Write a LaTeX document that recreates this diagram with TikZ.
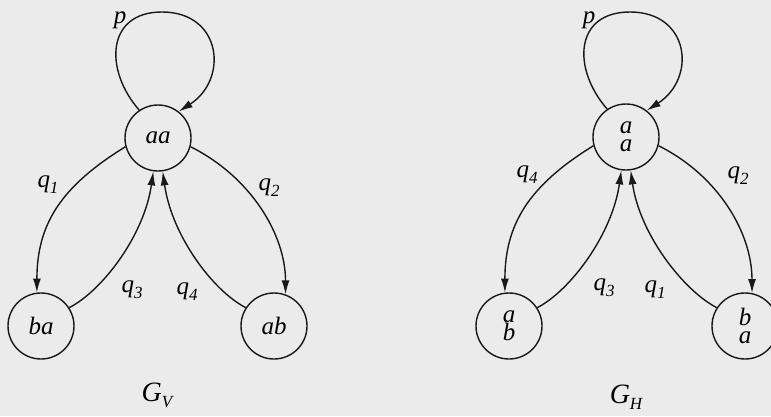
\documentclass[tikz,border=0pt]{standalone}
\usepackage{fontspec}
\setmainfont{Liberation Serif}
\usetikzlibrary{arrows.meta}
\newcommand\lsub[2]{#1\raisebox{-6pt}{\fontsize{17}{17}\selectfont #2}}
\begin{document}
\begin{tikzpicture}[x=1pt,y=-1pt,
  state/.style={circle,draw=black!90,line width=1.4pt,minimum size=66pt,inner sep=0pt,
    align=center,font=\fontsize{25}{18}\selectfont\itshape},
  edge/.style={draw=black!90,line width=1.4pt,-{Latex[length=14pt,width=8pt]}},
  lbl/.style={inner sep=0pt,font=\fontsize{25}{27}\selectfont\itshape}]
\useasboundingbox[fill=black!8] (0,0) rectangle (771,416);
% ---------- left graph G_V
\node[state] (aa) at (158,138) {aa};
\node[state] (ba) at (41,326) {ba};
\node[state] (ab) at (274,326) {ab};
\coordinate (pl) at (162,12);
\draw[edge] (aa.124) .. controls +(-35,-40) and +(-56,0) .. (pl)
  .. controls +(60,0) and +(50,-32) .. (aa.52);
\draw[edge] (aa.195) .. controls +(-65,40) and +(0,-68) .. (ba.97);
\draw[edge] (aa.-15) .. controls +(60,30) and +(0,-60) .. (ab.70);
\draw[edge] (ba.33) .. controls +(33,-17) and +(-9,64) .. (aa.262);
\draw[edge] (ab.147) .. controls +(-33,-17) and +(9,64) .. (aa.278);
\node[lbl] (lp) at (120,20) {p};
\node[lbl] (l1) at (48,185) {\lsub{q}{1}};
\node[lbl] (l2) at (269,188) {\lsub{q}{2}};
\node[lbl] (l3) at (132,290) {\lsub{q}{3}};
\node[lbl] (l4) at (187,292) {\lsub{q}{4}};
\node[lbl] (gv) at (157,395) {\fontsize{28}{30}\selectfont\lsub{G}{V}};
% ---------- right graph G_H
\node[state] (ra) at (626,137) {a\\a};
\node[state] (rl) at (509,326) {a\\b};
\node[state] (rr) at (745,326) {b\\a};
\coordinate (pr) at (630,12);
\draw[edge] (ra.124) .. controls +(-35,-40) and +(-56,0) .. (pr)
  .. controls +(60,0) and +(50,-32) .. (ra.52);
\draw[edge] (ra.195) .. controls +(-65,40) and +(0,-68) .. (rl.97);
\draw[edge] (ra.-15) .. controls +(60,30) and +(0,-60) .. (rr.78);
\draw[edge] (rl.33) .. controls +(33,-17) and +(-9,64) .. (ra.262);
\draw[edge] (rr.147) .. controls +(-33,-17) and +(9,64) .. (ra.278);
\node[lbl] (rp) at (589,20) {p};
\node[lbl] (r4) at (527,175) {\lsub{q}{4}};
\node[lbl] (r2) at (738,176) {\lsub{q}{2}};
\node[lbl] (r3) at (604,288) {\lsub{q}{3}};
\node[lbl] (r1) at (655,290) {\lsub{q}{1}};
\node[lbl] (gh) at (626,397) {\fontsize{28}{30}\selectfont\lsub{G}{H}};
\end{tikzpicture}
\end{document}
